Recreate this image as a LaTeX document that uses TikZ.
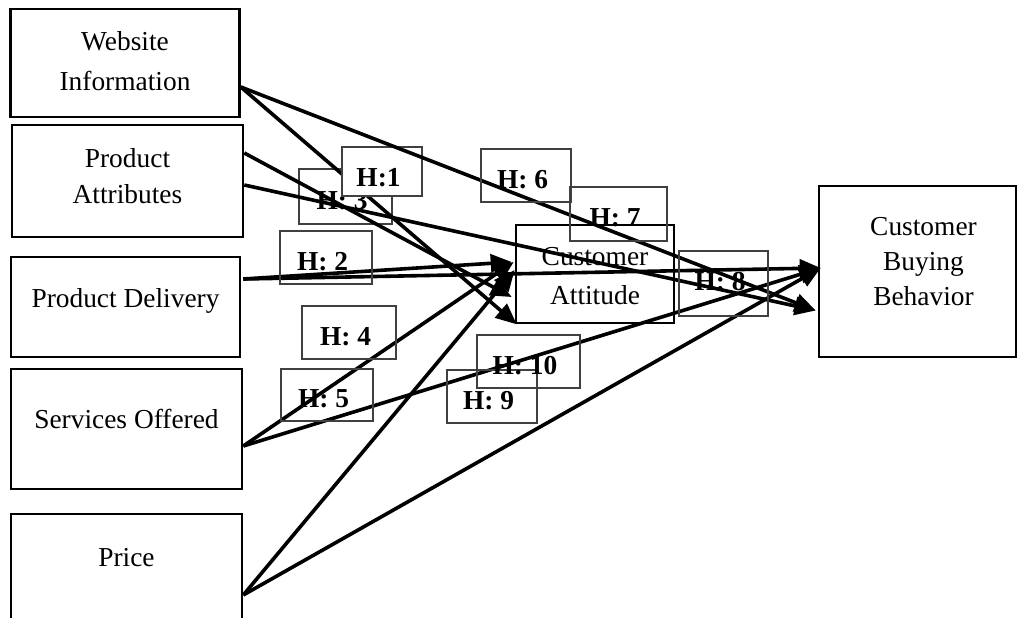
\documentclass[tikz,border=0pt]{standalone}
\usepackage{fontspec}
\setmainfont{Liberation Serif}
\usetikzlibrary{arrows.meta}
\begin{document}
\begin{tikzpicture}[x=1pt,y=-1pt,
  mainbox/.style={draw=black,line width=2.6pt,inner sep=0pt,align=center,font=\fontsize{27.4}{36}\selectfont},
  hbox/.style={draw=black!75,line width=1.3pt,inner sep=0pt,font=\bfseries\fontsize{27.4}{32}\selectfont,text height=25pt,text depth=0pt,execute at begin node=\kern-7pt},
  conn/.style={line width=3.6pt,-{Triangle[length=21pt,width=18pt]}}]
\clip (0,0) rectangle (1017,618);

% main boxes
\node[mainbox,font=\fontsize{27.4}{40}\selectfont,minimum width=229pt,minimum height=108pt] (wi) at (125,63) {Website\\Information\rule[-5pt]{0pt}{5pt}};
\node[mainbox,minimum width=231pt,minimum height=112pt] (pa) at (127.5,181) {Product\\Attributes\rule[-11pt]{0pt}{11pt}};
\node[mainbox,minimum width=229pt,minimum height=100pt] (pd) at (125.5,307) {Product Delivery\rule[-19pt]{0pt}{19pt}};
\node[mainbox,minimum width=231pt,minimum height=120pt] (so) at (126.5,429) {Services Offered\rule[-21pt]{0pt}{21pt}};
\node[mainbox,minimum width=231pt,minimum height=116pt] (pr) at (126.5,572) {Price\rule[-29pt]{0pt}{29pt}};
\node[mainbox,font=\fontsize{27.4}{39}\selectfont,minimum width=158pt,minimum height=98pt] (ca) at (595,274) {\rule{0pt}{23pt}Customer\\Attitude};
\node[mainbox,font=\fontsize{27.4}{35}\selectfont,minimum width=197pt,minimum height=171pt] (cbb) at (917.5,271.5) {\hspace*{12pt}Customer\\\hspace*{12pt}Buying\\\hspace*{12pt}Behavior\rule[-21pt]{0pt}{21pt}};

% H:3 label, then WI -> CA, then H:1 covering it
\node[hbox,minimum width=93pt,minimum height=55pt] (h3) at (345.5,196.5) {H: 3};
\draw[conn] ([yshift=-24pt]wi.east) -- ([xshift=2pt]ca.south west);
\node[hbox,fill=white,minimum width=80pt,minimum height=49pt,text height=29pt] (h1) at (382,171.5) {H:1};

% other connectors
\draw[conn] ([yshift=-24pt]wi.east) -- ([xshift=-2pt,yshift=-39pt]cbb.west);
\draw[conn] ([yshift=28pt]pa.east) -- ([xshift=-3pt,yshift=-23pt]ca.west);
\draw[conn] ([yshift=-4pt]pa.east) -- ([xshift=-2pt,yshift=-39pt]cbb.west);
\draw[conn] ([xshift=2pt,yshift=28pt]pd.east) -- ([xshift=-3pt,yshift=12pt]ca.west);
\draw[conn] ([xshift=2pt,yshift=28pt]pd.east) -- ([xshift=3pt,yshift=3.5pt]cbb.west);
\draw[conn] ([yshift=-17pt]so.east) -- ([xshift=-1pt,yshift=12pt]ca.west);
\draw[conn] ([yshift=-17pt]so.east) -- ([xshift=3pt,yshift=3.5pt]cbb.west);
\draw[conn] ([yshift=-23pt]pr.east) -- ([yshift=4pt]ca.west);
\draw[conn] ([yshift=-23pt]pr.east) -- ([xshift=3pt,yshift=3.5pt]cbb.west);

% remaining labels
\node[hbox,minimum width=92pt,minimum height=53pt] (h2) at (326,257.5) {H: 2};
\node[hbox,minimum width=90pt,minimum height=53pt] (h6) at (526,175.5) {H: 6};
\node[hbox,minimum width=97pt,minimum height=54pt] (h7) at (618.5,214) {H: 7};
\node[hbox,minimum width=89pt,minimum height=65pt,text height=18.5pt,text depth=5.5pt] (h8) at (723.5,283.5) {H: 8};
\node[hbox,minimum width=94pt,minimum height=53pt] (h4) at (349,332.5) {H: 4};
\node[hbox,minimum width=92pt,minimum height=52pt] (h5) at (327,395) {H: 5};
\node[hbox,minimum width=90pt,minimum height=53pt] (h9) at (492,396.5) {H: 9};
\node[hbox,minimum width=103pt,minimum height=53pt] (h10) at (528.5,361.5) {H: 10};
\end{tikzpicture}
\end{document}
